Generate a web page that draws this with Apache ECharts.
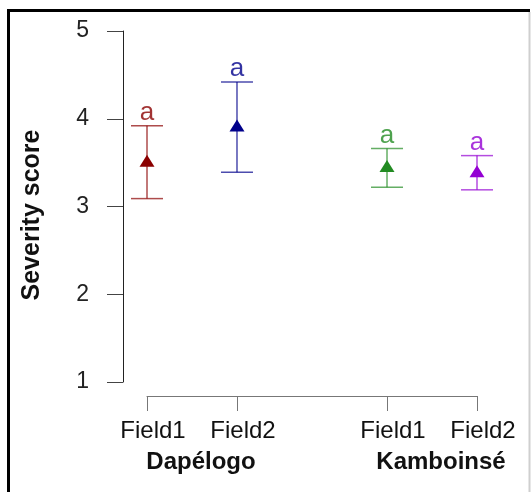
<!DOCTYPE html>
<html>
<head>
<meta charset="utf-8">
<script src="https://cdn.jsdelivr.net/npm/echarts@6/dist/echarts.min.js"></script>
<style>
html,body{margin:0;padding:0;background:#fff;}
#c{width:532px;height:492px;}
</style>
</head>
<body>
<div id="c"></div>
<script>
const categories = ['Field1', 'Field2', 'Field1', 'Field2'];
const groups = ['Dapélogo', 'Kamboinsé'];
const xPositions = [1, 2, 3.667, 4.667];
const groupPositions = [1.5, 4.167];
const means = [3.50, 3.90, 3.44, 3.38];
const upper = [3.92, 4.42, 3.66, 3.58];
const lower = [3.09, 3.39, 3.22, 3.19];
const letters = ['a', 'a', 'a', 'a'];
const yTicks = [1, 2, 3, 4, 5];
const colors = ['#8B0000', '#00008B', '#228B22', '#9400D3'];

const chart = echarts.init(document.getElementById('c'), null, {renderer: 'canvas'});

function nearestIndex(arr, v) {
  let best = 0;
  for (let i = 1; i < arr.length; i++) {
    if (Math.abs(arr[i] - v) < Math.abs(arr[best] - v)) best = i;
  }
  return best;
}

const option = {
  animation: false,
  backgroundColor: '#fff',
  grid: {left: 147, right: 55, top: 31, bottom: 110, containLabel: false, outerBoundsMode: 'none'},
  xAxis: [{
    type: 'value',
    min: xPositions[0],
    max: xPositions[xPositions.length - 1],
    offset: 14,
    splitLine: {show: false},
    axisLine: {show: true, lineStyle: {color: '#777', width: 1}},
    axisTick: {show: true, length: 15, customValues: xPositions, lineStyle: {color: '#777'}},
    axisLabel: {
      show: true,
      customValues: xPositions,
      margin: 23,
      padding: [0, 0, 0, 12],
      fontFamily: 'Liberation Sans, Arial, sans-serif',
      fontSize: 24,
      color: '#111',
      formatter: function (v) { return categories[nearestIndex(xPositions, v)]; }
    }
  }, {
    type: 'value',
    min: xPositions[0],
    max: xPositions[xPositions.length - 1],
    position: 'bottom',
    offset: 14,
    splitLine: {show: false},
    axisLine: {show: false},
    axisTick: {show: false},
    axisLabel: {
      show: true,
      customValues: groupPositions,
      margin: 54,
      padding: [0, 0, 0, 18],
      fontFamily: 'Liberation Sans, Arial, sans-serif',
      fontWeight: 'bold',
      fontSize: 24,
      color: '#111',
      formatter: function (v) { return groups[nearestIndex(groupPositions, v)]; }
    }
  }],
  yAxis: {
    type: 'value',
    min: yTicks[0],
    max: yTicks[yTicks.length - 1],
    interval: 1,
    offset: 24,
    name: 'Severity score',
    nameLocation: 'middle',
    nameGap: 78,
    nameRotate: 90,
    nameTextStyle: {
      fontFamily: 'Liberation Sans, Arial, sans-serif',
      fontWeight: 'bold',
      fontSize: 25,
      color: '#111',
      padding: [0, 17, 0, 0]
    },
    splitLine: {show: false},
    axisLine: {show: true, lineStyle: {color: '#222', width: 1}},
    axisTick: {show: true, length: 16, lineStyle: {color: '#444'}},
    axisLabel: {
      margin: 34,
      fontFamily: 'Liberation Sans, Arial, sans-serif',
      fontSize: 23,
      color: '#222'
    }
  },
  series: [{
    type: 'custom',
    xAxisIndex: 0,
    data: xPositions.map((x, i) => [x, lower[i], upper[i]]),
    renderItem: function (params, api) {
      const x = api.value(0);
      const lo = api.coord([x, api.value(1)]);
      const hi = api.coord([x, api.value(2)]);
      const c = colors[params.dataIndex];
      const st = {stroke: c, lineWidth: 1.5, opacity: 0.7};
      const half = 16;
      return {
        type: 'group',
        children: [
          {type: 'line', shape: {x1: lo[0], y1: lo[1], x2: hi[0], y2: hi[1]}, style: st},
          {type: 'line', shape: {x1: lo[0] - half, y1: lo[1], x2: lo[0] + half, y2: lo[1]}, style: st},
          {type: 'line', shape: {x1: hi[0] - half, y1: hi[1], x2: hi[0] + half, y2: hi[1]}, style: st}
        ]
      };
    },
    z: 2
  }, {
    type: 'scatter',
    xAxisIndex: 0,
    symbol: 'triangle',
    symbolSize: [15, 12],
    symbolOffset: [0, -2],
    data: xPositions.map((x, i) => ({value: [x, means[i]], itemStyle: {color: colors[i], opacity: 1}})),
    z: 3
  }, {
    type: 'scatter',
    xAxisIndex: 0,
    symbolSize: 0.1,
    itemStyle: {color: 'rgba(0,0,0,0)'},
    data: xPositions.map((x, i) => ({
      value: [x, upper[i]],
      label: {
        show: true,
        position: 'top',
        distance: 0,
        formatter: letters[i],
        color: colors[i],
        fontFamily: 'Liberation Sans, Arial, sans-serif',
        fontSize: 26
      }
    })),
    z: 4
  }],
  graphic: [
    {type: 'rect', shape: {x: 7, y: 9, width: 3, height: 483}, style: {fill: '#000'}, silent: true},
    {type: 'rect', shape: {x: 7, y: 9, width: 523, height: 3}, style: {fill: '#000'}, silent: true},
    {type: 'rect', shape: {x: 528.5, y: 12, width: 2, height: 480}, style: {fill: '#cfcfcf'}, silent: true}
  ]
};

chart.setOption(option);
</script>
</body>
</html>
